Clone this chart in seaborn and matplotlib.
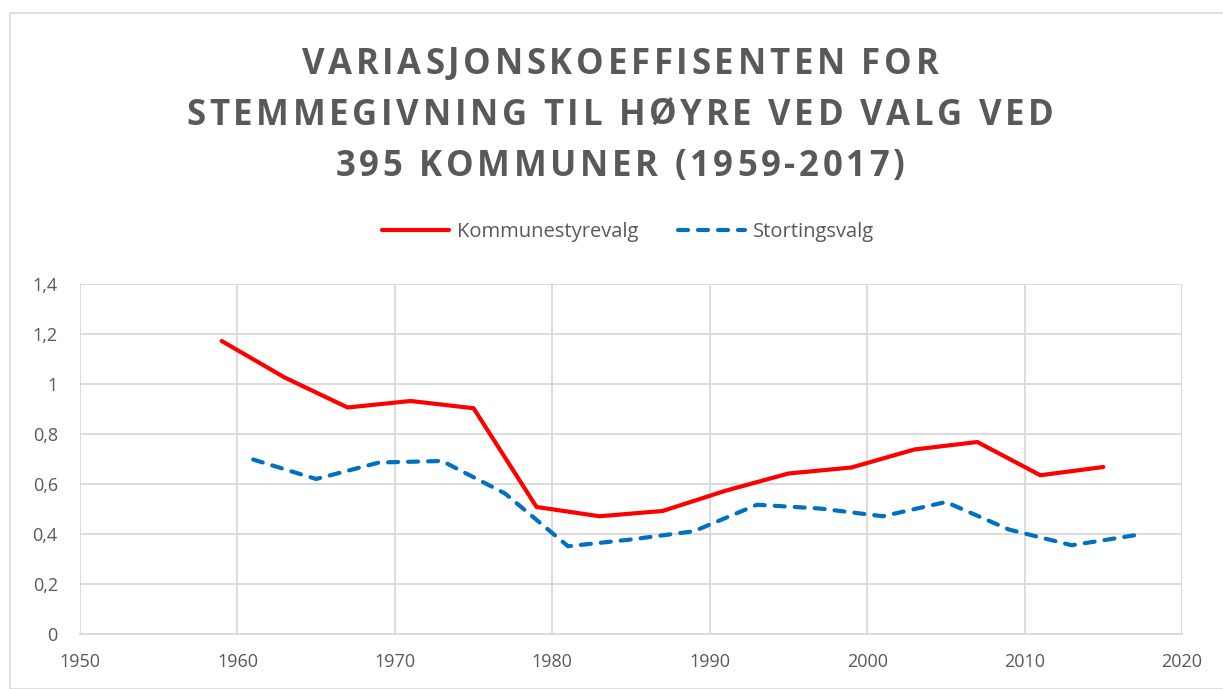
import numpy as np
import pandas as pd
import matplotlib
matplotlib.use("Agg")
import matplotlib.pyplot as plt
import seaborn as sns
from matplotlib.patches import Rectangle
from matplotlib.ticker import FuncFormatter
from matplotlib.font_manager import FontProperties

# data
kommune_years = [1959, 1963, 1967, 1971, 1975, 1979, 1983, 1987, 1991, 1995, 1999, 2003, 2007, 2011, 2015]
kommune_vals = [1.172, 1.026, 0.906, 0.932, 0.903, 0.508, 0.471, 0.492, 0.573, 0.642, 0.666, 0.738, 0.768, 0.635, 0.668]

storting_years = [1961, 1965, 1969, 1973, 1977, 1981, 1985, 1989, 1993, 1997, 2001, 2005, 2009, 2013, 2017]
storting_vals = [0.698, 0.620, 0.686, 0.692, 0.562, 0.351, 0.378, 0.411, 0.517, 0.502, 0.471, 0.528, 0.418, 0.355, 0.395]

title_lines = ["VARIASJONSKOEFFISENTEN FOR",
               "STEMMEGIVNING TIL HØYRE VED VALG VED",
               "395 KOMMUNER (1959-2017)"]
gray = "#595959"
grid = "#d9d9d9"

sns.set_style("white")
plt.rcParams['font.family'] = ['Open Sans', 'DejaVu Sans']

W, H = 1223, 689
fig = plt.figure(figsize=(W / 100, H / 100), dpi=100)
ax = fig.add_axes([80 / W, 1 - 634 / H, 1102 / W, 350 / H])

df_k = pd.DataFrame({"year": kommune_years, "value": kommune_vals})
df_s = pd.DataFrame({"year": storting_years, "value": storting_vals})

sns.lineplot(data=df_k, x="year", y="value", ax=ax, color="#ff0000", linewidth=3.0,
             label="Kommunestyrevalg", solid_capstyle="round", solid_joinstyle="round")
sns.lineplot(data=df_s, x="year", y="value", ax=ax, color="#0070c0", linewidth=3.0,
             label="Stortingsvalg", linestyle=(0, (2.4, 2.4)), dash_capstyle="round")

ax.set_xlim(1950, 2020)
ax.set_ylim(0, 1.4)
ax.set_xticks(np.arange(1950, 2021, 10))
ax.set_yticks(np.arange(0, 1.41, 0.2))
ax.yaxis.set_major_formatter(FuncFormatter(lambda v, p: ("%g" % round(v, 1)).replace(".", ",")))
ax.grid(True, color=grid, linewidth=1.3)
ax.set_axisbelow(True)
for s in ["top", "right", "left"]:
    ax.spines[s].set_visible(False)
ax.spines["bottom"].set_color(grid)
ax.spines["bottom"].set_linewidth(1.3)
ax.tick_params(length=0, labelsize=13, colors=gray)
ax.tick_params(axis="x", pad=14)
ax.tick_params(axis="y", pad=16)
ax.set_xlabel("")
ax.set_ylabel("")

leg = ax.legend(loc="center", bbox_to_anchor=(628 / W, 1 - 232 / H), bbox_transform=fig.transFigure,
                ncol=2, frameon=False, fontsize=14.5, handlelength=3.3, columnspacing=2.0,
                handletextpad=0.4)
for t in leg.get_texts():
    t.set_color(gray)

# title with letter spacing, drawn char by char
fp = FontProperties(family=['Open Sans', 'DejaVu Sans'], weight="bold", size=25)
renderer = fig.canvas.get_renderer()
spacing = 3.7
baselines = [73.5, 125, 175.5]
for line, base in zip(title_lines, baselines):
    widths = [renderer.get_text_width_height_descent(c, fp, ismath=False)[0] for c in line]
    total = sum(widths) + spacing * (len(line) - 1)
    x = 620 - total / 2
    for c, w in zip(line, widths):
        fig.text(x / W, 1 - base / H, c, fontproperties=fp, color=gray, ha="left", va="baseline")
        x += w + spacing

fig.patches.append(Rectangle((10 / W, 0), 1.2, 1 - 13 / H, transform=fig.transFigure,
                             fill=False, edgecolor=grid, linewidth=1.2))

fig.savefig("out.png", dpi=100)
